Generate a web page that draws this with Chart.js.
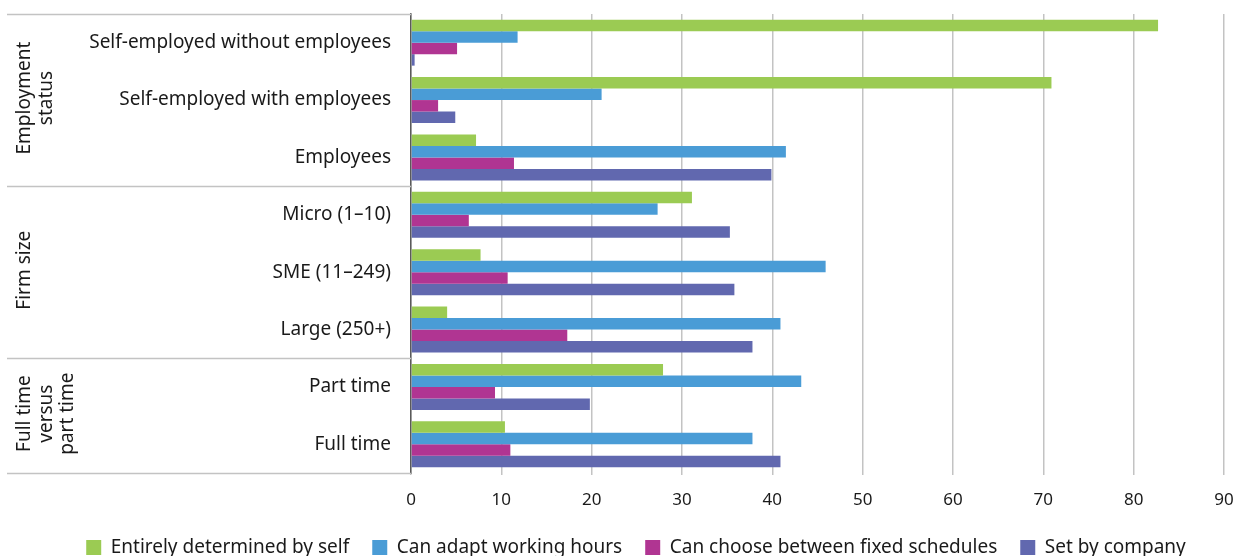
<!DOCTYPE html>
<html>
<head>
<meta charset="utf-8">
<title>Working time arrangements</title>
<script src="https://cdn.jsdelivr.net/npm/chart.js"></script>
<style>
  html, body { margin: 0; padding: 0; overflow: hidden; background: #fff; }
  #wrap { width: 1242px; height: 568px; }
</style>
</head>
<body>
<div id="wrap"><canvas id="chart"></canvas></div>
<script>
// categories, top to bottom
const categories = [
  "Self-employed without employees",
  "Self-employed with employees",
  "Employees",
  "Micro (1\u201310)",
  "SME (11\u2013249)",
  "Large (250+)",
  "Part time",
  "Full time"
];
const seriesNames = [
  "Entirely determined by self",
  "Can adapt working hours",
  "Can choose between fixed schedules",
  "Set by company"
];
const selfDetermined = [82.7, 70.9, 7.2, 31.1, 7.7, 4.0, 27.9, 10.4];
const adaptHours     = [11.8, 21.1, 41.5, 27.3, 45.9, 40.9, 43.2, 37.8];
const fixedSchedules = [5.1, 3.0, 11.4, 6.4, 10.7, 17.3, 9.3, 11.0];
const setByCompany   = [0.4, 4.9, 39.9, 35.3, 35.8, 37.8, 19.8, 40.9];
const seriesColors = ["#9bcb53", "#4a9cd6", "#b03592", "#6168af"];
const xTicks = [0, 10, 20, 30, 40, 50, 60, 70, 80, 90];

// groups on the left side
const groupLabels = [["Employment", "status"], ["Firm size"], ["Full time", "versus", "part time"]];
const groupSizes = [3, 3, 2];

const FONT = "'Noto Sans', sans-serif";
const TEXT = "#1a1a1a";

// draws the group dividers and rotated group titles
const groupPlugin = {
  id: "groups",
  afterDraw(chart) {
    const ctx = chart.ctx;
    const area = chart.chartArea;
    const band = (area.bottom - area.top) / categories.length;
    ctx.save();
    ctx.strokeStyle = "#c3c3c3";
    ctx.lineWidth = 1.5;
    let start = 0;
    const edges = [area.top];
    groupSizes.forEach(n => { start += n; edges.push(area.top + start * band); });
    edges.forEach(y => {
      ctx.beginPath();
      ctx.moveTo(7, Math.round(y) + 0.5);
      ctx.lineTo(area.left, Math.round(y) + 0.5);
      ctx.stroke();
    });
    ctx.fillStyle = TEXT;
    ctx.font = "19px " + FONT;
    ctx.textAlign = "center";
    ctx.textBaseline = "middle";
    const lineStep = 21.5;
    groupLabels.forEach((lines, i) => {
      const cy = (edges[i] + edges[i + 1]) / 2 - 2;
      lines.forEach((t, j) => {
        ctx.save();
        ctx.translate(25 + j * lineStep, cy);
        ctx.rotate(-Math.PI / 2);
        ctx.fillText(t, 0, 0);
        ctx.restore();
      });
    });
    ctx.restore();
  }
};

const allSeries = [selfDetermined, adaptHours, fixedSchedules, setByCompany];

new Chart(document.getElementById("chart"), {
  type: "bar",
  data: {
    labels: categories,
    datasets: allSeries.map((vals, i) => ({
      label: seriesNames[i],
      data: vals,
      backgroundColor: seriesColors[i],
      borderWidth: 0,
      categoryPercentage: 0.8,
      barPercentage: 1.0
    }))
  },
  options: {
    indexAxis: "y",
    responsive: true,
    maintainAspectRatio: false,
    animation: false,
    // left padding shifts the centred legend; the y axis width makes up for it
    layout: { padding: { top: 14, right: 18, bottom: 1, left: 48 } },
    plugins: {
      tooltip: { enabled: false },
      legend: {
        position: "bottom",
        labels: {
          boxWidth: 15,
          boxHeight: 15,
          padding: 23,
          color: TEXT,
          font: { family: FONT, size: 19 }
        }
      }
    },
    scales: {
      x: {
        min: 0,
        max: 90,
        afterBuildTicks(scale) { scale.ticks = xTicks.map(v => ({ value: v })); },
        afterFit(scale) {
          scale.height = 42;
          scale.paddingLeft = 0;
          scale.paddingRight = 0;
        },
        grid: { color: "#c3c3c3", lineWidth: 1.5, drawTicks: true, tickLength: 2 },
        border: { display: false },
        ticks: { color: TEXT, padding: 15, font: { family: FONT, size: 17 } }
      },
      y: {
        afterFit(scale) {
          scale.width = 363;
          scale.paddingTop = 0;
          scale.paddingBottom = 0;
        },
        grid: { display: false },
        border: { display: true, color: "#5a5a5a", width: 1.5 },
        ticks: { color: TEXT, padding: 12, font: { family: FONT, size: 19 } }
      }
    }
  },
  plugins: [groupPlugin]
});
</script>
</body>
</html>
